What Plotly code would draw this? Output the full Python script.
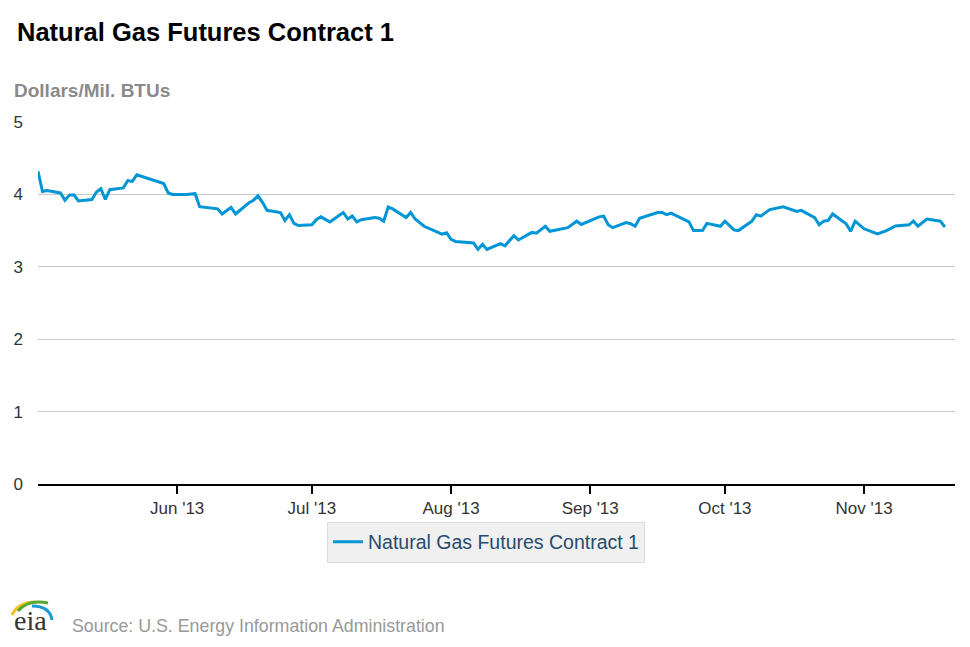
import plotly.graph_objects as go

dates = [
    "2013-05-01", "2013-05-02", "2013-05-03", "2013-05-06", "2013-05-07", "2013-05-08",
    "2013-05-09", "2013-05-10", "2013-05-13", "2013-05-14", "2013-05-15", "2013-05-16",
    "2013-05-17", "2013-05-20", "2013-05-21", "2013-05-22", "2013-05-23", "2013-05-29",
    "2013-05-30", "2013-05-31", "2013-06-03", "2013-06-05", "2013-06-06", "2013-06-10",
    "2013-06-11", "2013-06-13", "2013-06-14", "2013-06-17", "2013-06-18", "2013-06-19",
    "2013-06-20", "2013-06-21", "2013-06-24", "2013-06-25", "2013-06-26", "2013-06-27",
    "2013-06-28", "2013-07-01", "2013-07-02", "2013-07-03", "2013-07-05", "2013-07-08",
    "2013-07-09", "2013-07-10", "2013-07-11", "2013-07-12", "2013-07-15", "2013-07-16",
    "2013-07-17", "2013-07-18", "2013-07-19", "2013-07-22", "2013-07-23", "2013-07-24",
    "2013-07-26", "2013-07-30", "2013-07-31", "2013-08-01", "2013-08-02", "2013-08-06",
    "2013-08-07", "2013-08-08", "2013-08-09", "2013-08-12", "2013-08-13", "2013-08-15",
    "2013-08-16", "2013-08-19", "2013-08-20", "2013-08-22", "2013-08-23", "2013-08-27",
    "2013-08-29", "2013-08-30", "2013-09-03", "2013-09-04", "2013-09-05", "2013-09-06",
    "2013-09-09", "2013-09-10", "2013-09-11", "2013-09-12", "2013-09-16", "2013-09-17",
    "2013-09-18", "2013-09-19", "2013-09-23", "2013-09-24", "2013-09-26", "2013-09-27",
    "2013-09-30", "2013-10-01", "2013-10-03", "2013-10-04", "2013-10-07", "2013-10-08",
    "2013-10-09", "2013-10-11", "2013-10-14", "2013-10-17", "2013-10-18", "2013-10-21",
    "2013-10-22", "2013-10-23", "2013-10-24", "2013-10-25", "2013-10-28", "2013-10-29",
    "2013-10-30", "2013-11-01", "2013-11-04", "2013-11-06", "2013-11-08", "2013-11-11",
    "2013-11-12", "2013-11-13", "2013-11-15", "2013-11-18", "2013-11-19",
]

prices = [
    4.32, 4.04, 4.055, 4.02, 3.92, 3.99,
    3.995, 3.91, 3.93, 4.03, 4.08, 3.93,
    4.065, 4.09, 4.19, 4.18, 4.27, 4.15,
    4.02, 4.00, 4.00, 4.01, 3.83, 3.80,
    3.73, 3.82, 3.73, 3.885, 3.92, 3.98,
    3.89, 3.78, 3.75, 3.64, 3.72, 3.60,
    3.57, 3.58, 3.65, 3.69, 3.62, 3.75,
    3.66, 3.70, 3.62, 3.65, 3.68, 3.67,
    3.63, 3.825, 3.80, 3.68, 3.75, 3.66,
    3.56, 3.45, 3.47, 3.38, 3.35, 3.33,
    3.24, 3.31, 3.24, 3.32, 3.29, 3.43,
    3.37, 3.475, 3.465, 3.56, 3.49, 3.54,
    3.63, 3.585, 3.69, 3.70, 3.58, 3.54,
    3.61, 3.595, 3.56, 3.67, 3.75, 3.75,
    3.72, 3.74, 3.62, 3.50, 3.50, 3.60,
    3.56, 3.63, 3.51, 3.50, 3.63, 3.72,
    3.70, 3.79, 3.83, 3.765, 3.78, 3.68,
    3.58, 3.63, 3.64, 3.73, 3.595, 3.49,
    3.63, 3.525, 3.455, 3.50, 3.565, 3.58,
    3.63, 3.56, 3.66, 3.63, 3.55,
]

series_name = "Natural Gas Futures Contract 1"
tick_vals = ["2013-06-01", "2013-07-01", "2013-08-01", "2013-09-01", "2013-10-01", "2013-11-01"]
tick_text = ["Jun '13", "Jul '13", "Aug '13", "Sep '13", "Oct '13", "Nov '13"]

# page offset of the figure (browser body margin)
OFF = 8
PW, PH = 970, 647
W, H = PW - 2 * OFF, PH - 2 * OFF
# plot area in page pixels
L, R, T, B = 38, 955, 122, 484


def px(xp):
    return (xp - L) / (R - L)


def py(yp):
    return (B - yp) / (B - T)


FONT = "Liberation Sans, Arial, sans-serif"
BLUE = "#0096d6"

fig = go.Figure()
fig.add_trace(go.Scatter(
    x=dates, y=prices, mode="lines", name=series_name,
    line=dict(color=BLUE, width=3), showlegend=True,
))

fig.update_layout(
    width=W, height=H,
    margin=dict(l=L - OFF, r=W - (R - OFF), t=T - OFF, b=H - (B - OFF), pad=0),
    paper_bgcolor="white", plot_bgcolor="white",
    font=dict(family=FONT, color="#333333", size=17),
    title=dict(text="<b>Natural Gas Futures Contract 1</b>", x=(17 - OFF) / W, xanchor="left",
               xref="container", yref="container", y=1 - (32 - OFF) / H, yanchor="middle",
               font=dict(size=25.5, color="#000000", family=FONT)),
    showlegend=True,
    legend=dict(orientation="h", x=px(486), xanchor="center", y=py(542), yanchor="middle",
                bgcolor="#f0f0f0", bordercolor="#dcdcdc", borderwidth=1,
                font=dict(size=19.5, color="#274b6d", family=FONT)),
    xaxis=dict(
        type="date", range=["2013-05-01", "2013-11-21 06:00"],
        tickvals=tick_vals, ticktext=tick_text,
        showgrid=False, zeroline=False,
        showline=True, linecolor="#000000", linewidth=2,
        ticks="outside", ticklen=8, tickwidth=1.5, tickcolor="#000000",
        tickfont=dict(size=17, color="#333333"),
    ),
    yaxis=dict(
        range=[0, 5], tickvals=[0, 1, 2, 3, 4, 5], ticktext=["0", "1", "2", "3", "4", "5"],
        showgrid=True, gridcolor="#c8c8c8", gridwidth=1, zeroline=False, showline=False,
        ticks="", ticklabelstandoff=14,
        tickfont=dict(size=17, color="#333333"),
    ),
    annotations=[
        dict(text="<b>Dollars/Mil. BTUs</b>", xref="paper", yref="paper",
             x=px(12), y=py(90), xanchor="left", yanchor="middle", showarrow=False,
             font=dict(size=19, color="#8a8a8a", family=FONT)),
        dict(text="Source: U.S. Energy Information Administration", xref="paper", yref="paper",
             x=px(70), y=py(626), xanchor="left", yanchor="middle", showarrow=False,
             font=dict(size=17.8, color="#999999", family=FONT)),
        dict(text="eia", xref="paper", yref="paper",
             x=px(30), y=py(620), xanchor="center", yanchor="middle", showarrow=False,
             font=dict(size=28, color="#333333", family="Liberation Serif, DejaVu Serif, serif")),
    ],
)


def arc(p0, c, p1, color, width):
    d = "M {},{} Q {},{} {},{}".format(px(p0[0]), py(p0[1]), px(c[0]), py(c[1]), px(p1[0]), py(p1[1]))
    return dict(type="path", path=d, xref="paper", yref="paper",
                line=dict(color=color, width=width), fillcolor="rgba(0,0,0,0)")


fig.update_layout(shapes=[
    arc((12, 615), (18, 602), (36, 602), "#f2c318", 3),
    arc((18, 611), (28, 599), (48, 603), "#5aa832", 3),
    arc((32, 606), (50, 606), (52, 620), "#1a9ad6", 3),
])

fig.write_html("out.html")
